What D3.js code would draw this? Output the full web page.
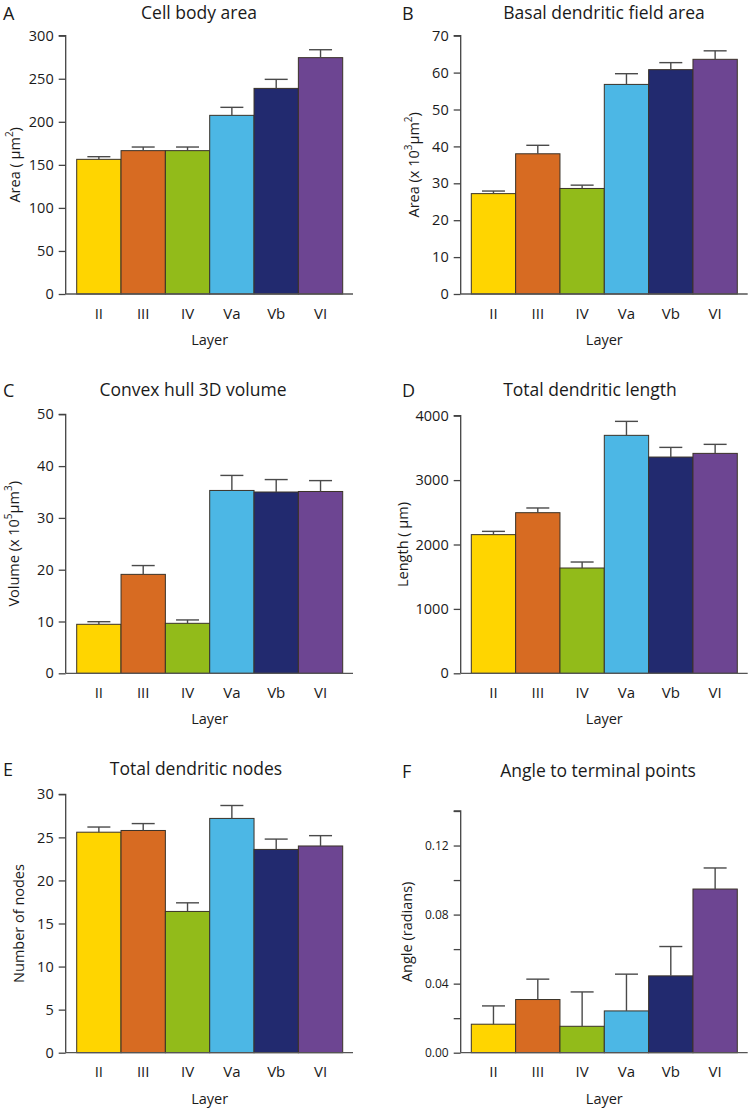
<!DOCTYPE html>
<html><head><meta charset="utf-8">
<script src="https://cdn.jsdelivr.net/npm/d3@7"></script>
<style>
html,body{margin:0;padding:0;background:#fff;}
svg text{font-family:"Open Sans","Noto Sans",sans-serif;fill:#1a1a1a;}
</style></head>
<body>
<svg id="chart" width="750" height="1109"></svg>
<script>
const layers = ["II","III","IV","Va","Vb","VI"];
const barColors = ["#FFD500","#D76B22","#92BB1A","#4CB7E5","#222A6F","#6D4592"];

const cellBodyMean = [156.4,166.5,166.5,207.5,238.8,274.5];
const cellBodyErr  = [3.1,4.2,4.2,9.3,10.5,9.2];
const cellBodyTicks = [0,50,100,150,200,250,300];

const basalMean = [27.2,38.0,28.6,56.8,60.8,63.6];
const basalErr  = [0.7,2.3,0.9,2.9,1.9,2.3];
const basalTicks = [0,10,20,30,40,50,60,70];

const hullMean = [9.46,19.1,9.65,35.3,35.0,35.1];
const hullErr  = [0.5,1.7,0.65,2.9,2.4,2.1];
const hullTicks = [0,10,20,30,40,50];

const lengthMean = [2153,2494,1635,3695,3358,3415];
const lengthErr  = [51,73,93,217,150,140];
const lengthTicks = [0,1000,2000,3000,4000];

const nodesMean = [25.6,25.8,16.4,27.2,23.6,24.0];
const nodesErr  = [0.6,0.8,1.0,1.5,1.2,1.2];
const nodesTicks = [0,5,10,15,20,25,30];

const angleMean = [0.0165,0.0308,0.0153,0.0242,0.0445,0.0948];
const angleErr  = [0.0106,0.0118,0.0199,0.0213,0.0170,0.0122];
const angleTicks = [0,0.02,0.04,0.06,0.08,0.10,0.12,0.14];
const angleLabelled = [0,0.04,0.08,0.12];

const svg = d3.select("#chart");

const panels = [
  {letter:"A", title:"Cell body area", ylabel:["Area ( µm",{sup:"2"},")"], mean:cellBodyMean, err:cellBodyErr, ticks:cellBodyTicks, fmt:d3.format("d"),
   col:0, yTop:35.7, yZero:294, titleY:19, titleX:199, yLabX:14, tickFont:14.5},
  {letter:"B", title:"Basal dendritic field area", ylabel:["Area (x 10",{sup:"3"},"µm",{sup:"2"},")"], mean:basalMean, err:basalErr, ticks:basalTicks, fmt:d3.format("d"),
   col:1, yTop:35.7, yZero:294, titleY:19, titleX:604, yLabX:413, tickFont:14.5},
  {letter:"C", title:"Convex hull 3D volume", ylabel:["Volume (x 10",{sup:"5"},"µm",{sup:"3"},")"], mean:hullMean, err:hullErr, ticks:hullTicks, fmt:d3.format("d"),
   col:0, yTop:414.3, yZero:673.3, titleY:396, titleX:193, yLabX:13, tickFont:14.5},
  {letter:"D", title:"Total dendritic length", ylabel:["Length ( µm)"], mean:lengthMean, err:lengthErr, ticks:lengthTicks, fmt:d3.format("d"),
   col:1, yTop:415.7, yZero:673.3, titleY:396, titleX:590, yLabX:402, tickFont:14.5},
  {letter:"E", title:"Total dendritic nodes", ylabel:["Number of nodes"], mean:nodesMean, err:nodesErr, ticks:nodesTicks, fmt:d3.format("d"),
   col:0, yTop:794.3, yZero:1052.7, titleY:775, titleX:196, yLabX:18, tickFont:14.5},
  {letter:"F", title:"Angle to terminal points", ylabel:["Angle (radians)"], mean:angleMean, err:angleErr, ticks:angleTicks, labelled:angleLabelled, fmt:d3.format(".2f"),
   col:1, yTop:811, yZero:1052.7, titleY:777, titleX:598, yLabX:406, tickFont:12}
];

const colLayout = [
  {axisX:65.7, barL:76.7, barR:342.7, lineR:353, letterX:3},
  {axisX:460.7, barL:471.3, barR:737.3, lineR:747.7, letterX:402}
];

panels.forEach(p => {
  const c = colLayout[p.col];
  const g = svg.append("g");
  const domainMax = p.ticks[p.ticks.length-1];
  const y = d3.scaleLinear().domain([0, domainMax]).range([p.yZero, p.yTop]);
  const x = d3.scaleBand().domain(layers).range([c.barL, c.barR]).padding(0);

  g.append("text").attr("x", c.letterX).attr("y", p.titleY+1).attr("font-size",18).text(p.letter);
  g.append("text").attr("x", p.titleX).attr("y", p.titleY).attr("text-anchor","middle").attr("font-size",17.5).text(p.title);

  g.selectAll("rect.bar").data(layers).enter().append("rect")
    .attr("x", d => x(d)).attr("width", x.bandwidth())
    .attr("y", (d,i) => y(p.mean[i])).attr("height", (d,i) => y(0) - y(p.mean[i]))
    .attr("fill", (d,i) => barColors[i]).attr("stroke","#3a3228").attr("stroke-width",1);

  const eg = g.append("g").attr("stroke","#4a4a4a").attr("stroke-width",1.4);
  layers.forEach((d,i) => {
    const cx = x(d) + x.bandwidth()/2;
    const top = y(p.mean[i] + p.err[i]);
    eg.append("line").attr("x1",cx).attr("x2",cx).attr("y1",y(p.mean[i])).attr("y2",top);
    eg.append("line").attr("x1",cx-11.5).attr("x2",cx+11.5).attr("y1",top).attr("y2",top);
  });

  const yAxis = d3.axisLeft(y).tickValues(p.ticks).tickSize(7).tickPadding(5)
    .tickFormat(v => (!p.labelled || p.labelled.some(l => Math.abs(l-v)<1e-9)) ? p.fmt(v) : "");
  const ya = g.append("g").attr("transform", `translate(${c.axisX},0)`).call(yAxis);
  ya.attr("font-size", p.tickFont).attr("font-family", null);
  ya.select(".domain").attr("d", `M-7,${y(domainMax)}H0V${y(0)}`).attr("stroke","#444").attr("stroke-width",1.3);
  ya.selectAll(".tick line").attr("stroke","#444").attr("stroke-width",1.3);
  ya.selectAll(".tick text").attr("font-size",p.tickFont).attr("fill","#1a1a1a");

  const xAxis = d3.axisBottom(x).tickSize(0).tickPadding(14);
  const xa = g.append("g").attr("transform", `translate(0,${p.yZero})`).call(xAxis);
  xa.attr("font-size", 15).attr("font-family", null);
  xa.select(".domain").attr("d", `M${c.axisX},0H${c.lineR}`).attr("stroke","#555").attr("stroke-width",1.3);
  xa.selectAll(".tick text").attr("font-size",15).attr("fill","#1a1a1a");

  g.append("text").attr("x", (c.barL+c.barR)/2).attr("y", p.yZero+51)
    .attr("text-anchor","middle").attr("font-size",14.5).text("Layer");

  const cy = (p.yTop + p.yZero)/2;
  const yl = g.append("text").attr("transform", `translate(${p.yLabX},${cy}) rotate(-90)`)
    .attr("text-anchor","middle").attr("dominant-baseline","central").attr("font-size",14.5);
  let shift = 0;
  p.ylabel.forEach(part => {
    if (typeof part === "string") {
      yl.append("tspan").attr("dy", -shift).text(part);
      shift = 0;
    } else {
      yl.append("tspan").attr("dy",-5 - shift).attr("font-size",10).text(part.sup);
      shift = -5;
    }
  });
});
</script>
</body></html>
